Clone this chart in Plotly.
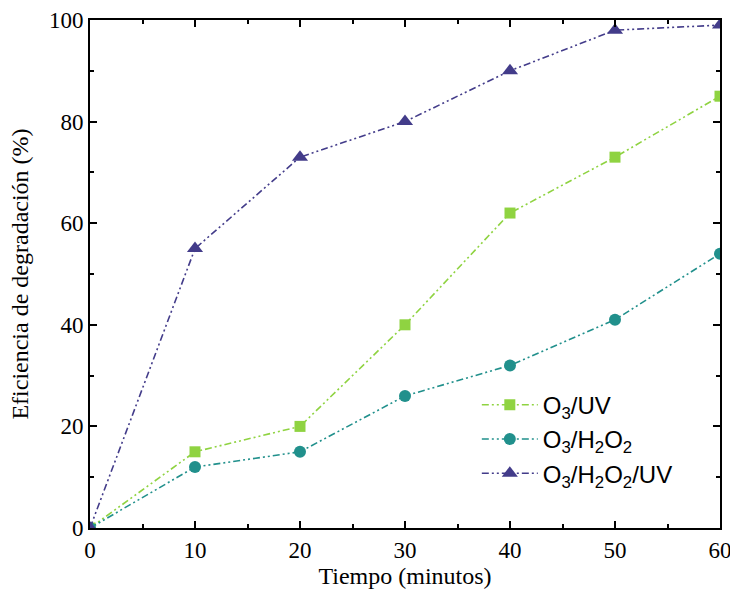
import plotly.graph_objects as go

tiempo = [0, 10, 20, 30, 40, 50, 60]
o3_uv = [0, 15, 20, 40, 62, 73, 85]
o3_h2o2 = [0, 12, 15, 26, 32, 41, 54]
o3_h2o2_uv = [0, 55, 73, 80, 90, 98, 99]

names = ["O<sub>3</sub>/UV", "O<sub>3</sub>/H<sub>2</sub>O<sub>2</sub>", "O<sub>3</sub>/H<sub>2</sub>O<sub>2</sub>/UV"]
colors = ["#8fd341", "#21908c", "#433c8a"]
symbols = ["square", "circle", "triangle-up"]
sizes = [11, 12, 14]
series = [o3_uv, o3_h2o2, o3_h2o2_uv]

fig = go.Figure()
for n, c, s, sz, y in zip(names, colors, symbols, sizes, series):
    fig.add_trace(go.Scatter(
        x=tiempo, y=y, name=n, mode="lines+markers",
        line=dict(color=c, width=1.6, dash="7px,3px,2px,3px,2px,3px"),
        marker=dict(symbol=s, size=sz, color=c, line=dict(width=0)),
    ))

axis_common = dict(
    showline=True, linecolor="black", linewidth=2, mirror="allticks",
    ticks="inside", ticklen=7, tickwidth=2, tickcolor="black",
    showgrid=False, zeroline=False, automargin=False,
    ticklabeloverflow="allow",
    tickfont=dict(family="Liberation Serif", size=23, color="black"),
)

fig.update_layout(
    width=730, height=594,
    margin=dict(l=90, r=10, t=20, b=66),
    plot_bgcolor="white", paper_bgcolor="white",
    xaxis=dict(range=[0, 60], dtick=10, tick0=0,
               minor=dict(dtick=5, ticks="inside", ticklen=4, tickwidth=2, tickcolor="black"),
               title=dict(text="Tiempo (minutos)", font=dict(family="Liberation Serif", size=24, color="black"), standoff=6),
               **axis_common),
    yaxis=dict(range=[0, 100], dtick=20, tick0=0,
               minor=dict(dtick=10, ticks="inside", ticklen=4, tickwidth=2, tickcolor="black"),
               title=dict(text="Eficiencia de degradación (%)", font=dict(family="Liberation Serif", size=24, color="black"), standoff=14),
               **axis_common),
    legend=dict(x=0.614, y=0.286, xanchor="left", yanchor="top",
                font=dict(family="Liberation Sans", size=24, color="black"),
                bgcolor="rgba(0,0,0,0)", tracegroupgap=0, itemwidth=56),
    showlegend=True,
)

fig.write_html("out.html")
